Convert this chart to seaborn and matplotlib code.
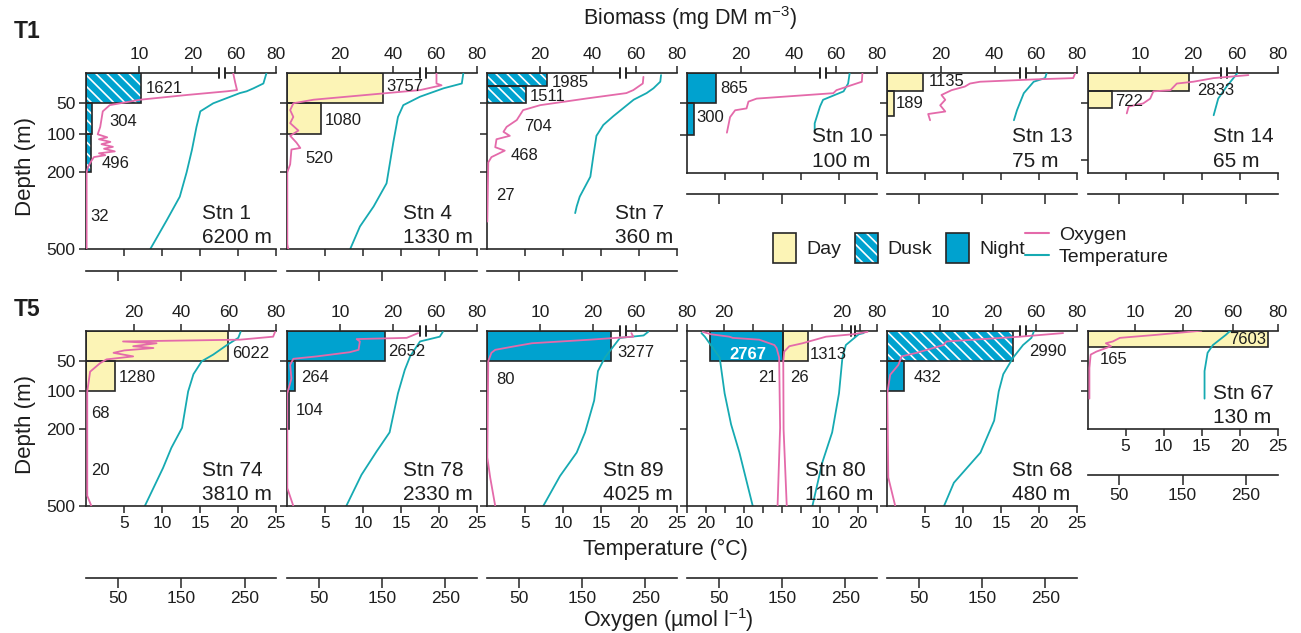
import numpy as np
import matplotlib
matplotlib.use("Agg")
import matplotlib.pyplot as plt
import seaborn as sns
from matplotlib.transforms import blended_transform_factory
from matplotlib.patches import Patch
from matplotlib.lines import Line2D
from matplotlib.legend_handler import HandlerTuple

# ======================= DATA =======================
# ---- Stn 1 (T1) ----
stn1_bins = [(0, 50), (50, 100), (100, 200), (200, 500)]
stn1_biomass = [10.4, 1.0, 0.8, 0.0]
stn1_period = ["Dusk", "Dusk", "Dusk", "Dusk"]
stn1_abund = ["1621", "304", "496", "32"]
stn1_oxy_depth = [0, 15, 28, 30, 36, 44, 53, 63, 88, 100, 108, 113, 120, 126, 133, 138, 145, 150, 155, 160, 170, 185, 200, 500]
stn1_oxy = [232, 235, 238, 222, 160, 85, 37, 26, 22, 18, 33, 20, 38, 24, 42, 28, 45, 20, 30, 12, 8, 3, 0.5, 0.5]
stn1_tmp_depth = [0, 17, 25, 30, 33, 50, 63, 88, 141, 200, 295, 386, 500]
stn1_tmp = [23.7, 23.3, 22.0, 21.1, 20.2, 16.7, 15.0, 14.5, 13.9, 13.2, 12.3, 10.6, 8.4]

# ---- Stn 4 ----
stn4_bins = [(0, 50), (50, 100), (100, 200)]
stn4_biomass = [36.3, 12.8, 0.0]
stn4_period = ["Day", "Day", "Day"]
stn4_abund = ["3757", "1080", "520"]
stn4_oxy_depth = [0, 17, 20, 28, 44, 50, 61, 72, 82, 94, 104, 122, 136, 140, 179, 200, 480, 500]
stn4_oxy = [236, 236, 244, 210, 42, 10, 5, 10, 5, 18, 5, 15, 21, 7, 5, 0.5, 0.5, 2]
stn4_tmp_depth = [0, 17, 25, 39, 53, 72, 120, 243, 333, 411, 500]
stn4_tmp = [23.2, 23.0, 20.6, 17.5, 15.3, 14.6, 14.0, 13.1, 11.4, 9.6, 8.3]

# ---- Stn 7 ----
stn7_bins = [(0, 21), (21, 50), (50, 100), (100, 200), (200, 500)]
stn7_biomass = [22.6, 14.8, 0.0, 0.0, 0.0]
stn7_period = ["Dusk", "Dusk", "Dusk", "Dusk", "Dusk"]
stn7_abund = ["1985", "1511", "704", "468", "27"]
stn7_oxy_depth = [6, 17, 28, 33, 42, 53, 61, 77, 88, 96, 104, 113, 134, 143, 160, 174, 392]
stn7_oxy = [247, 246, 231, 220, 157, 84, 57, 47, 31, 26, 36, 15, 13, 28, 7, 2, 0.5]
stn7_tmp_depth = [3, 14, 25, 33, 44, 71, 85, 104, 156, 217, 295, 333, 359]
stn7_tmp = [22.9, 22.8, 21.9, 21.0, 19.3, 16.6, 15.3, 14.4, 14.0, 13.6, 12.2, 11.8, 11.6]

# ---- Stn 10 ----
stn10_bins = [(0, 50), (50, 100)]
stn10_biomass = [10.8, 2.6]
stn10_period = ["Night", "Night"]
stn10_abund = ["865", "300"]
stn10_oxy_depth = [0, 14, 28, 33, 42, 47, 58, 61, 72, 97]
stn10_oxy = [277, 276, 236, 231, 110, 97, 94, 76, 68, 63]
stn10_tmp_depth = [0, 17, 30, 44, 55, 82, 94]
stn10_tmp = [21.4, 21.2, 20.6, 17.9, 17.5, 16.8, 16.8]

# ---- Stn 13 ----
stn13_bins = [(0, 30), (30, 70)]
stn13_biomass = [13.5, 2.6]
stn13_period = ["Day", "Day"]
stn13_abund = ["1135", "189"]
stn13_oxy_depth = [0, 8, 10, 14, 17, 22, 28, 36, 44, 53, 63, 67, 77]
stn13_oxy = [297, 294, 236, 147, 131, 123, 102, 86, 92, 84, 92, 65, 68]
stn13_tmp_depth = [0, 8, 14, 33, 61, 77]
stn13_tmp = [21.0, 20.8, 19.3, 18.0, 17.1, 16.7]

# ---- Stn 14 ----
stn14_bins = [(0, 30), (30, 58)]
stn14_biomass = [19.4, 4.6]
stn14_period = ["Day", "Day"]
stn14_abund = ["2833", "722"]
stn14_oxy_depth = [3, 8, 14, 17, 28, 30, 42, 50, 55, 66]
stn14_oxy = [254, 199, 167, 141, 131, 104, 99, 88, 65, 62]
stn14_tmp_depth = [0, 8, 22, 42, 69]
stn14_tmp = [19.7, 19.2, 18.3, 17.2, 16.6]

# ---- Stn 74 (T5) ----
stn74_bins = [(0, 50), (50, 100), (100, 200), (200, 500)]
stn74_biomass = [59.8, 12.1, 0.0, 0.0]
stn74_period = ["Day", "Day", "Day", "Day"]
stn74_abund = ["6022", "1280", "68", "20"]
stn74_oxy_depth = [2, 10, 15, 18, 21, 26, 29, 33, 37, 43, 48, 54, 68, 100, 460, 500]
stn74_oxy = [298, 295, 243, 58, 111, 74, 106, 60, 43, 74, 32, 22, 6, 1.5, 1.5, 8]
stn74_tmp_depth = [2, 12, 24, 40, 51, 72, 100, 196, 272, 351, 500]
stn74_tmp = [20.3, 20.0, 18.5, 16.7, 15.2, 14.1, 13.4, 12.6, 11.2, 10.1, 7.7]

# ---- Stn 78 ----
stn78_bins = [(0, 50), (50, 100), (100, 200)]
stn78_biomass = [18.5, 1.5, 0.3]
stn78_period = ["Night", "Night", "Night"]
stn78_abund = ["2652", "264", "104"]
stn78_oxy_depth = [4, 12, 14, 18, 32, 36, 43, 47, 57, 79, 105, 430, 500]
stn78_oxy = [207, 189, 110, 115, 113, 99, 47, 10, 5, 7, 0.5, 0.5, 10]
stn78_tmp_depth = [2, 10, 18, 43, 65, 105, 212, 286, 378, 500]
stn78_tmp = [20.5, 20.1, 17.5, 16.2, 15.5, 14.6, 13.5, 11.8, 9.8, 7.8]

# ---- Stn 89 ----
stn89_bins = [(0, 50), (50, 100)]
stn89_biomass = [23.4, 0.0]
stn89_period = ["Night", "Night"]
stn89_abund = ["3277", "80"]
stn89_oxy_depth = [4, 10, 15, 21, 26, 32, 37, 51, 310, 388, 500]
stn89_oxy = [228, 231, 163, 71, 44, 13, 7, 2, 0.5, 5, 13]
stn89_tmp_depth = [2, 8, 12, 45, 67, 124, 212, 291, 383, 500]
stn89_tmp = [21.2, 20.6, 17.5, 15.5, 14.6, 14.1, 12.9, 11.8, 9.6, 7.4]

# ---- Stn 80 (night left, day right) ----
stn80_bins = [(0, 50), (0, 50), (50, 100), (50, 100)]
stn80_biomass = [-24.5, 8.5, 0.0, 0.0]
stn80_period = ["Night", "Day", "Night", "Day"]
stn80_abund = ["2767", "1313", "21", "26"]
stn80_night_oxy_depth = [2, 6, 10, 12, 15, 24, 29, 45, 196, 500]
stn80_night_oxy = [250, 224, 166, 156, 72, 24, 17, 9, 6, 14]
stn80_day_oxy_depth = [2, 6, 10, 21, 26, 35, 51, 200, 500]
stn80_day_oxy = [270, 223, 139, 65, 23, 7, 4, 5, 15]
stn80_night_tmp_depth = [4, 10, 45, 105, 187, 291, 500]
stn80_night_tmp = [21.2, 20.3, 16.4, 15.1, 13.4, 11.2, 7.7]
stn80_day_tmp_depth = [4, 6, 24, 45, 105, 212, 330, 500]
stn80_day_tmp = [21.5, 20.2, 16.8, 15.9, 15.0, 13.2, 10.6, 8.0]

# ---- Stn 68 ----
stn68_bins = [(0, 50), (50, 100)]
stn68_biomass = [23.8, 3.3]
stn68_period = ["Dusk", "Night"]
stn68_abund = ["2990", "432"]
stn68_oxy_depth = [4, 10, 18, 24, 37, 43, 57, 73, 105, 388, 500]
stn68_oxy = [278, 210, 94, 89, 47, 23, 18, 5, 0.5, 2, 13]
stn68_tmp_depth = [2, 12, 24, 45, 72, 100, 177, 291, 409, 500]
stn68_tmp = [19.3, 19.0, 17.9, 16.6, 15.3, 14.7, 14.1, 12.3, 8.8, 7.5]

# ---- Stn 67 ----
stn67_bins = [(0, 28)]
stn67_biomass = [75.6]
stn67_period = ["Day"]
stn67_abund = ["7603", "165"]
stn67_oxy_depth = [0, 7, 12, 18, 21, 26, 35, 40, 62, 119]
stn67_oxy = [180, 108, 51, 40, 29, 37, 14, 5, 3, 3]
stn67_tmp_depth = [0, 7, 24, 37, 67, 119]
stn67_tmp = [18.8, 18.2, 16.5, 15.8, 15.4, 15.4]

station_names = ["Stn 1", "Stn 4", "Stn 7", "Stn 10", "Stn 13", "Stn 14",
                 "Stn 74", "Stn 78", "Stn 89", "Stn 80", "Stn 68", "Stn 67"]
bottom_depths = ["6200 m", "1330 m", "360 m", "100 m", "75 m", "65 m",
                 "3810 m", "2330 m", "4025 m", "1160 m", "480 m", "130 m"]

# ======================= LAYOUT (positions, px) =======================
stn1_label_pos = [(59.4, 25, "left"), (23, 80, "left"), (15.4, 178, "left"), (4.4, 373, "left")]
stn4_label_pos = [(99, 22, "left"), (38, 77, "left"), (18, 163, "left")]
stn7_label_pos = [(64.7, 16, "left"), (43, 38, "left"), (37.3, 88, "left"), (23.7, 155, "left"), (8.7, 289, "left")]
stn10_label_pos = [(33.7, 25, "left"), (9.7, 73, "left")]
stn13_label_pos = [(41.3, 14, "left"), (9, 50, "left")]
stn14_label_pos = [(110, 29, "left"), (27.7, 47, "left")]
stn74_label_pos = [(146, 38, "left"), (32, 78, "left"), (4.4, 159, "left"), (4.4, 363, "left")]
stn78_label_pos = [(101.3, 35, "left"), (13.7, 78, "left"), (8.7, 149, "left")]
stn89_label_pos = [(130.7, 36, "left"), (9, 80, "left")]
stn80_label_pos = [(61, 39, "center"), (122.3, 39, "left"), (89.7, 78, "right"), (103, 78, "left")]
stn68_label_pos = [(142.3, 35, "left"), (27, 78, "left")]
stn67_label_pos = [(179, 15.5, "right"), (12, 48, "left")]

W, H = 1301, 633
PW = 190
DEPTH_NODES = [0, 50, 100, 200, 500]
DEPTH_POS = [0, 30, 61, 99, 176]

DAY = "#FCF4B6"
BLUE = "#00A2CF"
PINK = "#E46AAA"
TEAL = "#16AAB2"
EDGE = "#262626"
TXT = "#1E1E1E"
HATCH = "\\\\\\"
TICK_FS = 12.5
LAB_FS = 12
STN_FS = 15
TITLE_FS = 15.5

sns.set_theme(style="white")
plt.rcParams["font.family"] = ["Liberation Sans", "DejaVu Sans"]
plt.rcParams["mathtext.fontset"] = "custom"
plt.rcParams["mathtext.rm"] = "Liberation Sans"
plt.rcParams["mathtext.it"] = "Liberation Sans:italic"
plt.rcParams["hatch.linewidth"] = 1.2


def interp_ext(v, xs, ys):
    v = np.asarray(v, dtype=float)
    xs = np.asarray(xs, dtype=float)
    ys = np.asarray(ys, dtype=float)
    out = np.interp(v, xs, ys)
    s0 = (ys[1] - ys[0]) / (xs[1] - xs[0])
    s1 = (ys[-1] - ys[-2]) / (xs[-1] - xs[-2])
    out = np.where(v < xs[0], ys[0] + (v - xs[0]) * s0, out)
    out = np.where(v > xs[-1], ys[-1] + (v - xs[-1]) * s1, out)
    return out


def make_funcs(xs, ys):
    return (lambda v: interp_ext(v, xs, ys)), (lambda p: interp_ext(p, ys, xs))


def broken_scale(k):
    return [0, 133.0 / k, 60, 80], [0, 133, 149, PW]


fig = plt.figure(figsize=(W / 100, H / 100), dpi=100)


def draw_station(left, top, height, ymax, yticks, ylabels, tlabels, olabels, oxy_gap,
                 name, depth_txt, bins, biomass, period, abund, lab_pos,
                 bscale, bticks, btick_labels, break_px, oxy_lines, tmp_lines, mirror=False):
    ax = fig.add_axes([left / W, 1 - (top + height) / H, PW / W, height / H])
    fy, iy = make_funcs(DEPTH_NODES, DEPTH_POS)
    ax.set_yscale("function", functions=(fy, iy))
    fb, ib = make_funcs(*bscale)
    ax.set_xscale("function", functions=(fb, ib))
    ax_t = ax.twiny()
    ax_o = ax.twiny()
    ax_ol = ax.twiny() if mirror else ax_o

    # biomass bars
    for (d0, d1), b, p in zip(bins, biomass, period):
        if b == 0:
            continue
        fc = DAY if p == "Day" else BLUE
        ax.barh(d0, b, height=d1 - d0, left=0, align="edge", color=fc, linewidth=0, zorder=1)
        if p == "Dusk":
            ax.barh(d0, b, height=d1 - d0, left=0, align="edge", facecolor="none",
                    edgecolor="white", hatch=HATCH, linewidth=0, zorder=2)
        ax.barh(d0, b, height=d1 - d0, left=0, align="edge", facecolor="none",
                edgecolor=EDGE, linewidth=1.2, zorder=3)

    # profiles
    for d, v in tmp_lines:
        sns.lineplot(x=v, y=d, ax=ax_t, sort=False, estimator=None, color=TEAL, linewidth=1.3)
    for d, v in oxy_lines:
        sns.lineplot(x=v, y=d, ax=ax_ol, sort=False, estimator=None, color=PINK, linewidth=1.3)

    # limits
    ax.set_xlim(bscale[0][0], bscale[0][-1])
    ax.set_ylim(ymax, 0)
    ax_t.set_xlim(-25 if mirror else 0, 25)
    ax_o.set_xlim(0, 300)
    if mirror:
        ax_ol.set_xlim(-300, 300)

    # spines
    axes = [ax, ax_t, ax_o] + ([ax_ol] if mirror else [])
    for a in axes:
        a.set_xlabel("")
        a.set_ylabel("")
        for s in a.spines.values():
            s.set_visible(False)
            s.set_color(EDGE)
            s.set_linewidth(1.2)
    ax.spines["left"].set_visible(True)
    ax.spines["top"].set_visible(True)
    ax_t.spines["bottom"].set_visible(True)
    ax_o.spines["bottom"].set_visible(True)
    ax_o.spines["bottom"].set_position(("outward", oxy_gap * 0.72))

    # ticks
    ax.xaxis.tick_top()
    ax.set_xticks(bticks, labels=btick_labels)
    ax.set_yticks(yticks, labels=[str(t) for t in yticks] if ylabels else [""] * len(yticks))
    ax.tick_params(axis="x", top=True, bottom=False, labeltop=True, labelbottom=False,
                   direction="out", length=5, width=1.1, color=EDGE, labelsize=TICK_FS,
                   labelcolor=TXT, pad=3)
    ax.tick_params(axis="y", left=True, right=False, labelleft=ylabels, direction="out",
                   length=5, width=1.1, color=EDGE, labelsize=TICK_FS, labelcolor=TXT, pad=3)
    ax_t.xaxis.tick_bottom()
    if mirror:
        tt = [-25, -20, -15, -10, -5, 0, 5, 10, 15, 20, 25]
        tl = ["", "20", "", "10", "", "", "", "10", "", "20", ""]
    else:
        tt = [5, 10, 15, 20, 25]
        tl = [str(t) for t in tt]
    ax_t.set_xticks(tt, labels=tl if tlabels else [""] * len(tt))
    ax_t.tick_params(axis="x", bottom=True, top=False, labelbottom=tlabels, labeltop=False,
                     direction="out", length=5, width=1.1, color=EDGE, labelsize=TICK_FS,
                     labelcolor=TXT, pad=2)
    ax_o.xaxis.tick_bottom()
    ot = [50, 150, 250]
    ax_o.set_xticks(ot, labels=[str(t) for t in ot] if olabels else ["", "", ""])
    ax_o.tick_params(axis="x", bottom=True, top=False, labelbottom=olabels, labeltop=False,
                     direction="out", length=7, width=1.1, color=EDGE, labelsize=TICK_FS,
                     labelcolor=TXT, pad=2.5)
    for a in axes[1:]:
        a.tick_params(axis="y", left=False, right=False, labelleft=False, labelright=False)
    if mirror:
        ax_ol.tick_params(axis="x", top=False, bottom=False, labeltop=False, labelbottom=False)

    # axis break marks
    if break_px:
        b1, b2 = break_px
        ax.plot([b1 / PW, b2 / PW], [1, 1], transform=ax.transAxes, color="white", lw=2.6,
                clip_on=False, zorder=5, solid_capstyle="butt")
        for b in (b1, b2):
            ax.plot([b / PW] * 2, [1 - 5 / height, 1 + 5 / height], transform=ax.transAxes,
                    color=EDGE, lw=1.4, clip_on=False, zorder=6)

    # labels
    trans = blended_transform_factory(ax.transAxes, ax.transData)
    for i, (txt, (xo, dep, ha)) in enumerate(zip(abund, lab_pos)):
        if mirror and i == 0:
            ax_ol.text(xo / PW, dep, txt, transform=trans, ha=ha, va="center", size=LAB_FS,
                       color="white", fontweight="bold")
        else:
            ax_ol.text(xo / PW, dep, txt, transform=trans, ha=ha, va="center", size=LAB_FS,
                       color=TXT)
    ax_ol.text(1 - 4 / PW, 2 / height, f"{name}\n{depth_txt}", transform=ax.transAxes,
               ha="right", va="bottom", multialignment="left", linespacing=1.35,
               size=STN_FS, color=TXT)
    return ax


COL_LEFT = [86.3, 287, 487, 687, 887, 1087.5]
T1_TOP, T5_TOP = 73.3, 330.7
FULL_TICKS = [50, 100, 200, 500]
BRK = (133, 139)

# ---- T1 row ----
draw_station(COL_LEFT[0], T1_TOP, 176, 500, FULL_TICKS, True, False, False, 21.7,
             station_names[0], bottom_depths[0], stn1_bins, stn1_biomass, stn1_period,
             stn1_abund, stn1_label_pos, broken_scale(5.3), [10, 20, 60, 80],
             ["10", "20", "60", "80"], BRK,
             [(stn1_oxy_depth, stn1_oxy)], [(stn1_tmp_depth, stn1_tmp)])
draw_station(COL_LEFT[1], T1_TOP, 176, 500, FULL_TICKS, False, False, False, 21.7,
             station_names[1], bottom_depths[1], stn4_bins, stn4_biomass, stn4_period,
             stn4_abund, stn4_label_pos, broken_scale(2.65), [20, 40, 60, 80],
             ["20", "40", "60", "80"], BRK,
             [(stn4_oxy_depth, stn4_oxy)], [(stn4_tmp_depth, stn4_tmp)])
draw_station(COL_LEFT[2], T1_TOP, 176, 500, FULL_TICKS, False, False, False, 21.7,
             station_names[2], bottom_depths[2], stn7_bins, stn7_biomass, stn7_period,
             stn7_abund, stn7_label_pos, broken_scale(2.64), [20, 40, 60, 80],
             ["20", "40", "60", "80"], BRK,
             [(stn7_oxy_depth, stn7_oxy)], [(stn7_tmp_depth, stn7_tmp)])
draw_station(COL_LEFT[3], T1_TOP, 99.4, 200, [50, 100], False, False, False, 21.6,
             station_names[3], bottom_depths[3], stn10_bins, stn10_biomass, stn10_period,
             stn10_abund, stn10_label_pos, broken_scale(2.69), [20, 40, 60, 80],
             ["20", "40", "60", "80"], BRK,
             [(stn10_oxy_depth, stn10_oxy)], [(stn10_tmp_depth, stn10_tmp)])
draw_station(COL_LEFT[4], T1_TOP, 99.4, 200, [50, 100], False, False, False, 21.6,
             station_names[4], bottom_depths[4], stn13_bins, stn13_biomass, stn13_period,
             stn13_abund, stn13_label_pos, broken_scale(2.69), [20, 40, 60, 80],
             ["20", "40", "60", "80"], BRK,
             [(stn13_oxy_depth, stn13_oxy)], [(stn13_tmp_depth, stn13_tmp)])
draw_station(COL_LEFT[5], T1_TOP, 99.4, 200, [50, 167], False, False, False, 21.6,
             station_names[5], bottom_depths[5], stn14_bins, stn14_biomass, stn14_period,
             stn14_abund, stn14_label_pos, broken_scale(5.25), [10, 20, 60, 80],
             ["10", "20", "60", "80"], BRK,
             [(stn14_oxy_depth, stn14_oxy)], [(stn14_tmp_depth, stn14_tmp)])

# ---- T5 row ----
draw_station(COL_LEFT[0], T5_TOP, 175.3, 500, FULL_TICKS, True, True, True, 71.7,
             station_names[6], bottom_depths[6], stn74_bins, stn74_biomass, stn74_period,
             stn74_abund, stn74_label_pos, ([0, 80], [0, PW]), [20, 40, 60, 80],
             ["20", "40", "60", "80"], None,
             [(stn74_oxy_depth, stn74_oxy)], [(stn74_tmp_depth, stn74_tmp)])
draw_station(COL_LEFT[1], T5_TOP, 175.3, 500, FULL_TICKS, False, True, True, 71.7,
             station_names[7], bottom_depths[7], stn78_bins, stn78_biomass, stn78_period,
             stn78_abund, stn78_label_pos, broken_scale(5.3), [10, 20, 60, 80],
             ["10", "20", "60", "80"], BRK,
             [(stn78_oxy_depth, stn78_oxy)], [(stn78_tmp_depth, stn78_tmp)])
draw_station(COL_LEFT[2], T5_TOP, 175.3, 500, FULL_TICKS, False, True, True, 71.7,
             station_names[8], bottom_depths[8], stn89_bins, stn89_biomass, stn89_period,
             stn89_abund, stn89_label_pos, broken_scale(5.3), [10, 20, 60, 80],
             ["10", "20", "60", ""], BRK,
             [(stn89_oxy_depth, stn89_oxy)], [(stn89_tmp_depth, stn89_tmp)])
draw_station(COL_LEFT[3], T5_TOP, 175.3, 500, FULL_TICKS, False, True, True, 71.7,
             station_names[9], bottom_depths[9], stn80_bins, stn80_biomass, stn80_period,
             stn80_abund, stn80_label_pos,
             ([-80, -25, 0, 23, 60, 80], [0, 22, 95.7, 163.5, 173, PW]),
             [-80, -20, -10, 0, 10, 20, 60, 80],
             ["80", "20", "", "", "", "20", "", "80"], (164, 168),
             [(stn80_night_oxy_depth, [-v for v in stn80_night_oxy]),
              (stn80_day_oxy_depth, stn80_day_oxy)],
             [(stn80_night_tmp_depth, [-v for v in stn80_night_tmp]),
              (stn80_day_tmp_depth, stn80_day_tmp)], mirror=True)
draw_station(COL_LEFT[4], T5_TOP, 175.3, 500, FULL_TICKS, False, True, True, 71.7,
             station_names[10], bottom_depths[10], stn68_bins, stn68_biomass, stn68_period,
             stn68_abund, stn68_label_pos, broken_scale(5.3), [10, 20, 60, 80],
             ["10", "20", "60", "80"], BRK,
             [(stn68_oxy_depth, stn68_oxy)], [(stn68_tmp_depth, stn68_tmp)])
draw_station(COL_LEFT[5], T5_TOP, 98.6, 200, [50, 100], False, True, True, 45.7,
             station_names[11], bottom_depths[11], stn67_bins, stn67_biomass, stn67_period,
             stn67_abund, stn67_label_pos, ([0, 30, 60, 80], [0, 143, 145, PW]),
             [10, 20, 60, 80], ["10", "20", "60", "80"], None,
             [(stn67_oxy_depth, stn67_oxy)], [(stn67_tmp_depth, stn67_tmp)])

# ---- figure texts ----
fig.text(583 / W, 1 - 18 / H, r"Biomass (mg DM m$^{-3}$)", ha="left", va="center",
         size=TITLE_FS, color=TXT)
fig.text(14 / W, 1 - 32 / H, "T1", ha="left", va="center", size=16.5, fontweight="bold", color=TXT)
fig.text(14 / W, 1 - 310 / H, "T5", ha="left", va="center", size=16.5, fontweight="bold", color=TXT)
fig.text(25 / W, 1 - 166 / H, "Depth (m)", rotation=90, ha="center", va="center", size=16, color=TXT)
fig.text(25 / W, 1 - 424 / H, "Depth (m)", rotation=90, ha="center", va="center", size=16, color=TXT)
fig.text(583 / W, 1 - 549 / H, "Temperature (°C)", ha="left", va="center", size=TITLE_FS, color=TXT)
fig.text(583 / W, 1 - 620 / H, r"Oxygen (µmol l$^{-1}$)", ha="left", va="center", size=TITLE_FS, color=TXT)

# ---- legends ----
day_h = Patch(facecolor=DAY, edgecolor=EDGE, linewidth=1.2)
night_h = Patch(facecolor=BLUE, edgecolor=EDGE, linewidth=1.2)
dusk_h = (Patch(facecolor=BLUE, edgecolor="none", linewidth=0),
          Patch(facecolor="none", edgecolor="white", hatch=HATCH, linewidth=0),
          Patch(facecolor="none", edgecolor=EDGE, linewidth=1.2))
fig.legend([day_h, dusk_h, night_h], ["Day", "Dusk", "Night"],
           handler_map={tuple: HandlerTuple(ndivide=1, pad=0)},
           ncol=3, loc="center left", bbox_to_anchor=(773 / W, 1 - 248 / H),
           frameon=False, fontsize=14, handlelength=1.2, handleheight=2.0,
           handletextpad=0.5, columnspacing=0.7, borderpad=0, borderaxespad=0,
           labelcolor=TXT)
fig.legend([Line2D([], [], color=PINK, lw=1.5), Line2D([], [], color=TEAL, lw=1.5)],
           ["Oxygen", "Temperature"], loc="center left",
           bbox_to_anchor=(1025 / W, 1 - 246 / H), frameon=False, fontsize=14,
           handlelength=1.25, handletextpad=0.5, labelspacing=0.25, borderpad=0,
           borderaxespad=0, labelcolor=TXT)

fig.savefig("out.png", dpi=100)
